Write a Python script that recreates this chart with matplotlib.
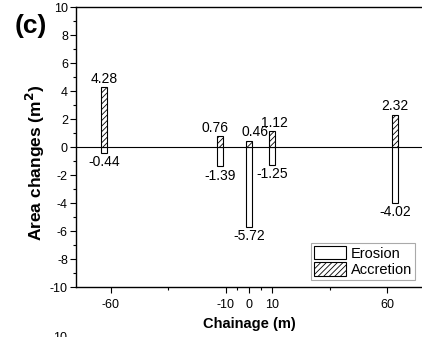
import matplotlib
matplotlib.use("Agg")
import matplotlib.pyplot as plt
from matplotlib.patches import Patch
from matplotlib.ticker import MultipleLocator, FixedLocator

plt.rcParams['font.family'] = ['Liberation Sans', 'DejaVu Sans']
plt.rcParams['hatch.linewidth'] = 0.6
plt.rcParams['axes.unicode_minus'] = False

# ---- data ----
tick_positions = [-60, -10, 0, 10, 60]
tick_labels = ['-60', '-10', '0', '10', '60']
bar_x = [-63, -12.5, 0, 10, 63.5]
erosion = [-0.44, -1.39, -5.72, -1.25, -4.02]
accretion = [4.28, 0.76, 0.46, 1.12, 2.32]
erosion_labels = ['-0.44', '-1.39', '-5.72', '-1.25', '-4.02']
accretion_labels = ['4.28', '0.76', '0.46', '1.12', '2.32']

# label horizontal nudges (points)
acc_dx = [0, -3.5, 4, 2, 0]
ero_dx = [0, 0, 0, 0, 0]

fig = plt.figure(figsize=(4.22, 3.37), dpi=100)
ax = fig.add_axes([76/422, 1-287/337, 346/422, 280/337])

w = 2.7
ax.bar(bar_x, erosion, width=w, facecolor='white', edgecolor='black', linewidth=0.8, zorder=3)
ax.bar(bar_x, accretion, width=w, facecolor='white', edgecolor='black', linewidth=0.8,
       hatch='//////', zorder=3)
ax.axhline(0, color='black', linewidth=0.8, zorder=2)

for x, v, s, dx in zip(bar_x, accretion, accretion_labels, acc_dx):
    ax.annotate(s, (x, v), xytext=(dx, 1), textcoords='offset points',
                ha='center', va='bottom', fontsize=10)
for x, v, s, dx in zip(bar_x, erosion, erosion_labels, ero_dx):
    ax.annotate(s, (x, v), xytext=(dx, -1.5), textcoords='offset points',
                ha='center', va='top', fontsize=10)

ax.set_xlim(-75.2, 75.2)
ax.set_ylim(-10, 10)
ax.xaxis.set_major_locator(FixedLocator(tick_positions))
ax.set_xticklabels(tick_labels)
ax.xaxis.set_minor_locator(FixedLocator([-35, -5, 5, 35]))
ax.yaxis.set_major_locator(MultipleLocator(2))
ax.yaxis.set_minor_locator(MultipleLocator(1))
ax.tick_params(which='major', direction='out', length=4, width=0.8, labelsize=9)
ax.tick_params(which='minor', direction='out', length=2.2, width=0.8)
ax.tick_params(axis='x', which='major', pad=4.5)
ax.tick_params(axis='y', which='major', pad=1.8)
ax.tick_params(top=False, right=False)
ax.spines['right'].set_visible(False)
for s in ['left', 'bottom', 'top']:
    ax.spines[s].set_linewidth(1.0)

ax.set_xlabel('Chainage (m)', fontsize=10.5, fontweight='bold')
ax.xaxis.set_label_coords(0.5, (287-317)/280)
ax.set_ylabel('Area changes (m$^\\mathbf{2}$)', fontsize=12.5, fontweight='bold')
ax.yaxis.set_label_coords((47-76)/346, (287-163)/280)

handles = [Patch(facecolor='white', edgecolor='black', linewidth=0.8, label='Erosion'),
           Patch(facecolor='white', edgecolor='black', linewidth=0.8, hatch='//////', label='Accretion')]
leg = ax.legend(handles=handles, loc='lower right', bbox_to_anchor=(339/346, 7/280),
                fontsize=10.5, fancybox=False, edgecolor='#aaaaaa', framealpha=1,
                handlelength=2.2, handleheight=1.05, labelspacing=0.12,
                borderpad=0.2, handletextpad=0.3, borderaxespad=0)
leg.get_frame().set_linewidth(0.8)

fig.text(15/422, 1-26/337, '(c)', fontsize=19, fontweight='bold', va='center', ha='left')
fig.text(67/422, -4/337, '10', fontsize=9, ha='right', va='baseline')

fig.savefig('out.png', dpi=100)
